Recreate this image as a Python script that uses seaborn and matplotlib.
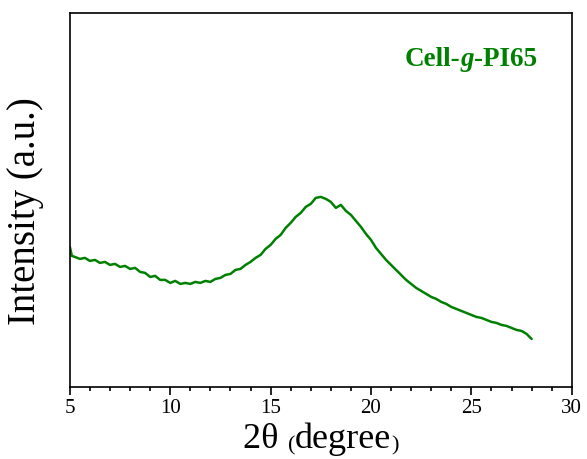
import numpy as np
import pandas as pd
import matplotlib.pyplot as plt
from matplotlib.ticker import MultipleLocator
import seaborn as sns

# 2theta (degree) and intensity (arbitrary units)
two_theta = [5.0, 5.1, 5.25, 5.5, 5.75, 6.0, 6.25, 6.5, 6.75, 7.0, 7.25, 7.5, 7.75,
             8.0, 8.25, 8.5, 8.75, 9.0, 9.25, 9.5, 9.75, 10.0, 10.25, 10.5, 10.75,
             11.0, 11.25, 11.5, 11.75, 12.0, 12.25, 12.5, 12.75, 13.0, 13.25, 13.5,
             13.75, 14.0, 14.25, 14.5, 14.75, 15.0, 15.25, 15.5, 15.75, 16.0, 16.25,
             16.5, 16.75, 17.0, 17.25, 17.5, 17.75, 18.0, 18.25, 18.5, 18.75, 19.0,
             19.25, 19.5, 19.75, 20.0, 20.25, 20.5, 20.75, 21.0, 21.25, 21.5, 21.75,
             22.0, 22.25, 22.5, 22.75, 23.0, 23.25, 23.5, 23.75, 24.0, 24.25, 24.5,
             24.75, 25.0, 25.25, 25.5, 25.75, 26.0, 26.25, 26.5, 26.75, 27.0, 27.25,
             27.5, 27.75, 28.0]
intensity = [140, 131, 130, 128, 129, 126, 127, 124, 125, 122, 123, 120, 121,
             118, 119, 115, 114, 110, 111, 107, 107, 104, 106, 103, 104,
             103, 105, 104, 106, 105, 108, 109, 112, 113, 117, 118,
             122, 125, 129, 132, 138, 142, 148, 152, 159, 164, 170,
             174, 180, 183, 189, 190, 188, 185, 179, 182, 176, 172,
             166, 160, 153, 147, 139, 133, 127, 122, 117, 112, 107,
             103, 99, 96, 93, 90, 88, 85, 83, 80, 78, 76,
             74, 72, 70, 69, 67, 65, 64, 62, 61, 59, 57,
             56, 53, 48]

sample_label = ['Cell-', 'g', '-PI65']

df = pd.DataFrame({'two_theta': two_theta, 'intensity': intensity})

sns.set_style('ticks')
plt.rcParams['font.family'] = ['Liberation Serif', 'DejaVu Serif']
plt.rcParams['text.color'] = 'black'
plt.rcParams['axes.labelcolor'] = 'black'

fig = plt.figure(figsize=(5.87, 4.59), dpi=100)
ax = fig.add_axes([0.119, 0.157, 0.855, 0.815])

sns.lineplot(data=df, x='two_theta', y='intensity', color='#008000',
             linewidth=1.8, ax=ax)

ax.set_xlim(5, 30)
ax.set_ylim(0, 374)
ax.xaxis.set_major_locator(MultipleLocator(5))
ax.xaxis.set_minor_locator(MultipleLocator(1))
ax.tick_params(axis='x', which='major', direction='out', length=6, width=1.2,
               labelsize=15, top=False, pad=3, colors='black', labelcolor='black')
ax.tick_params(axis='x', which='minor', direction='out', length=3, width=1.2,
               top=False, colors='black')
ax.tick_params(axis='y', left=False, labelleft=False)
for s in ax.spines.values():
    s.set_linewidth(1.2)
    s.set_color('black')

ax.set_xlabel('')
ax.set_ylabel('Intensity (a.u.)', fontsize=28)
ax.yaxis.set_label_coords(-0.052, 0.47)

# x label with smaller parentheses, pieces chained left to right
t0 = fig.text(0.414, 0.024, '2\u03b8 ', fontsize=26, ha='left', va='baseline')
t1 = ax.annotate('(', xy=(1, 0), xycoords=t0, fontsize=16, va='bottom', ha='left',
                 annotation_clip=False)
t2 = ax.annotate('degree', xy=(1, 0), xycoords=t1, fontsize=26, va='bottom', ha='left',
                 annotation_clip=False)
t3 = ax.annotate(')', xy=(1, 0), xycoords=t2, fontsize=16, va='bottom', ha='left',
                 annotation_clip=False)

# sample label
l0 = ax.text(0.667, 0.858, sample_label[0], transform=ax.transAxes, fontsize=19.5,
             fontweight='bold', color='#008000', ha='left', va='baseline')
l1 = ax.annotate(sample_label[1], xy=(1, 0), xycoords=l0, fontsize=19.5, fontweight='bold',
                 fontstyle='italic', color='#008000', va='bottom', ha='left')
l2 = ax.annotate(sample_label[2], xy=(1, 0), xycoords=l1, fontsize=19.5, fontweight='bold',
                 color='#008000', va='bottom', ha='left')

fig.savefig('out.png', dpi=100)
